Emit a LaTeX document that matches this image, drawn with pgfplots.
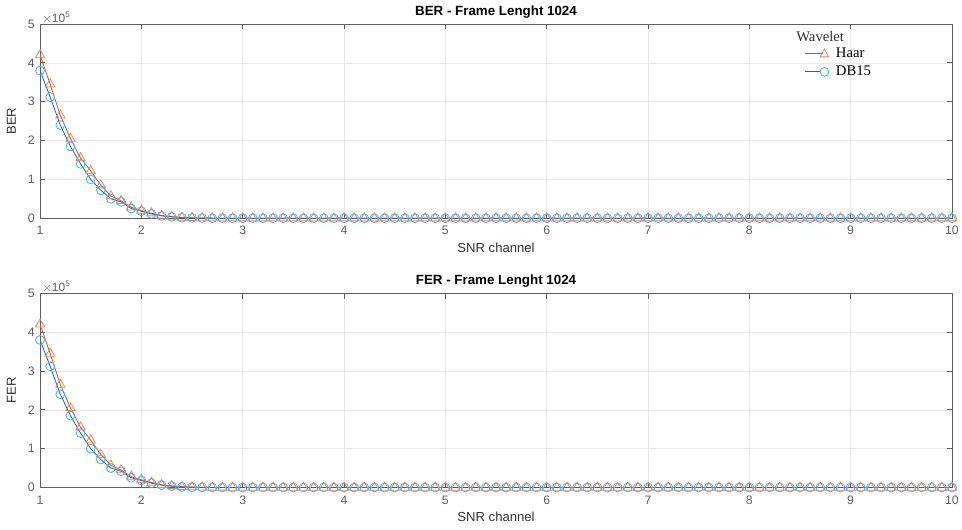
\documentclass[border=0pt]{standalone}
\usepackage{fontspec}
\setmainfont{Liberation Sans}
\newfontfamily\legfont{Liberation Serif}
\usepackage{pgfplots}
\usepackage{pgfplotstable}
\pgfplotsset{compat=1.18}

\definecolor{haarline}{RGB}{217,83,25}
\definecolor{haarmark}{RGB}{235,135,95}
\definecolor{dbline}{RGB}{0,114,189}
\definecolor{dbmark}{RGB}{77,175,230}
\definecolor{gridc}{RGB}{232,232,232}
\definecolor{axc}{RGB}{95,95,95}

% SNR, Haar, DB15
\pgfplotstableread{
x haar db
1.0 420000 380000
1.1 345000 312000
1.2 265000 240000
1.3 205000 185000
1.4 155000 140000
1.5 122000 100000
1.6 85000 72000
1.7 57000 50000
1.8 45000 42000
1.9 28000 25000
2.0 20000 18000
2.1 13000 11000
2.2 7000 6000
2.3 4000 3500
2.4 2000 1500
2.5 1000 800
2.6 500 400
2.7 200 150
2.8 100 80
2.9 0 0
3.0 0 0
3.1 0 0
3.2 0 0
3.3 0 0
3.4 0 0
3.5 0 0
3.6 0 0
3.7 0 0
3.8 0 0
3.9 0 0
4.0 0 0
4.1 0 0
4.2 0 0
4.3 0 0
4.4 0 0
4.5 0 0
4.6 0 0
4.7 0 0
4.8 0 0
4.9 0 0
5.0 0 0
5.1 0 0
5.2 0 0
5.3 0 0
5.4 0 0
5.5 0 0
5.6 0 0
5.7 0 0
5.8 0 0
5.9 0 0
6.0 0 0
6.1 0 0
6.2 0 0
6.3 0 0
6.4 0 0
6.5 0 0
6.6 0 0
6.7 0 0
6.8 0 0
6.9 0 0
7.0 0 0
7.1 0 0
7.2 0 0
7.3 0 0
7.4 0 0
7.5 0 0
7.6 0 0
7.7 0 0
7.8 0 0
7.9 0 0
8.0 0 0
8.1 0 0
8.2 0 0
8.3 0 0
8.4 0 0
8.5 0 0
8.6 0 0
8.7 0 0
8.8 0 0
8.9 0 0
9.0 0 0
9.1 0 0
9.2 0 0
9.3 0 0
9.4 0 0
9.5 0 0
9.6 0 0
9.7 0 0
9.8 0 0
9.9 0 0
10.0 0 0
}\datatab

\pgfplotsset{
  matax/.style={
    scale only axis,
    width=683.25pt, height=145.5pt,
    xmin=1, xmax=10, ymin=0, ymax=500000,
    xtick={1,2,...,10},
    ytick={0,100000,200000,300000,400000,500000},
    scaled y ticks=base 10:-5,
    ytick scale label code/.code={$\times$10\textsuperscript{5}},
    every y tick scale label/.style={at={(rel axis cs:0,1)}, anchor=south west, xshift=1pt, yshift=-1pt, inner sep=1pt, font=\fontsize{9}{10}\selectfont, text=axc},
    /pgf/number format/assume math mode=true,
    ticklabel style={font=\fontsize{9.2}{10}\selectfont, text=axc},
    xticklabel style={yshift=-2.5pt},
    yticklabel style={xshift=-0.5pt},
    label style={font=\fontsize{9.8}{11}\selectfont, text=black!80},
    title style={font=\bfseries\fontsize{10}{11}\selectfont, yshift=-5pt},
    xlabel={SNR channel},
    xlabel style={yshift=1pt},
    ylabel style={yshift=2pt},
    grid=major,
    major grid style={gridc, line width=0.5pt},
    axis line style={axc, line width=0.7pt},
    tick style={axc, line width=0.6pt},
    tick align=inside,
    major tick length=4pt,
    xtick pos=both, ytick pos=both,
  },
  haarst/.style={color=haarline, line width=0.6pt, mark=triangle, mark size=4pt, mark options={haarmark, line width=0.6pt, fill=none}},
  dbst/.style={color=dbline, line width=0.6pt, mark=o, mark size=3.3pt, mark options={dbmark, line width=0.6pt, fill=none}},
}

\begin{document}
\begin{tikzpicture}
\begin{axis}[matax, at={(0,0)}, title={BER - Frame Lenght 1024}, ylabel={BER},
  legend style={at={(0.838,0.89)}, anchor=north west, draw=none, fill=none,
    font=\legfont\fontsize{11}{12.5}\selectfont, row sep=2pt, inner sep=0pt,
    nodes={inner sep=1.5pt}},
  legend cell align=left]
\addplot[haarst, legend image code/.code={
    \draw[haarline, line width=0.8pt] (0cm,0cm) -- (0.48cm,0cm);
    \draw[haarmark, line width=0.6pt] (0.4cm,-0.09cm) -- (0.62cm,-0.09cm) -- (0.51cm,0.12cm) -- cycle;
    \path (0.75cm,0cm);
  }] table[x=x, y=haar] {\datatab};
\addlegendentry{Haar}
\addplot[dbst, legend image code/.code={
    \draw[dbline, line width=0.8pt] (0cm,0cm) -- (0.4cm,0cm);
    \draw[dbmark, line width=0.6pt] (0.51cm,0cm) circle (3.3pt);
    \path (0.75cm,0cm);
  }] table[x=x, y=db] {\datatab};
\addlegendentry{DB15}
\node[anchor=north west, font=\legfont\fontsize{11}{12}\selectfont, text=black!80, inner sep=0pt] at (rel axis cs:0.829,0.965) {Wavelet};
\end{axis}
\begin{axis}[matax, at={(0,-201.75pt)}, title={FER - Frame Lenght 1024}, ylabel={FER}]
\addplot[haarst] table[x=x, y=haar] {\datatab};
\addplot[dbst] table[x=x, y=db] {\datatab};
\end{axis}
\pgfresetboundingbox
\path[use as bounding box] (-30pt,-233.25pt) rectangle (690.75pt,163.5pt);
\end{tikzpicture}
\end{document}
